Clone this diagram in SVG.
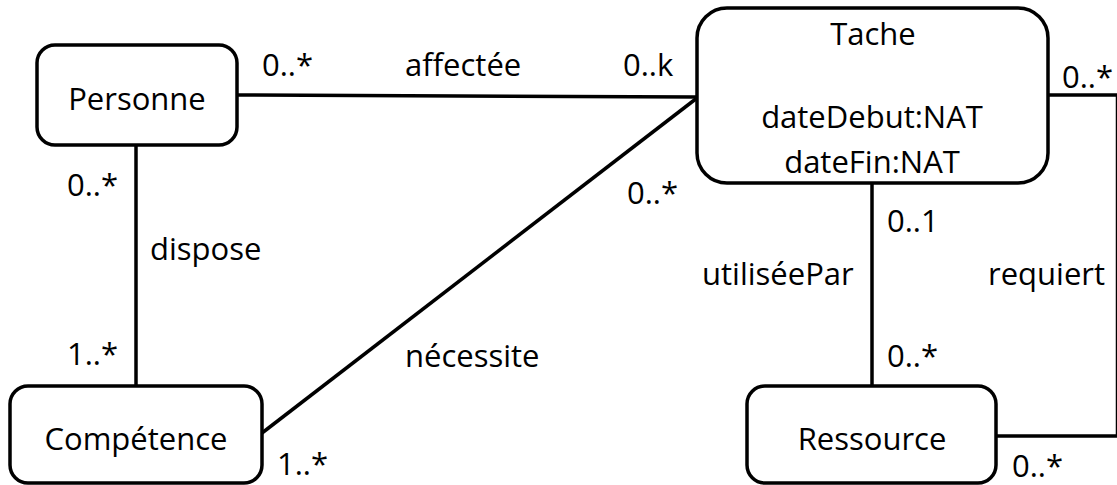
<svg xmlns="http://www.w3.org/2000/svg" width="1117" height="485" viewBox="0 0 1117 485">
<style>
.box{fill:#fff;stroke:#000;stroke-width:3.5}
.ln{fill:none;stroke:#000;stroke-width:3.5;stroke-linecap:butt}
text{font-family:"Open Sans","Noto Sans",sans-serif;font-size:31px;fill:#000}
.c{text-anchor:middle}
</style>
<rect width="1117" height="485" fill="#fff"/>
<g id="connectors">
<line class="ln" x1="237" y1="95" x2="697" y2="97"/>
<line class="ln" x1="262" y1="433" x2="697" y2="98"/>
<line class="ln" x1="136" y1="145" x2="136" y2="386"/>
<line class="ln" x1="872" y1="183" x2="872" y2="386"/>
<polyline class="ln" points="1048,95 1117.5,95 1117.5,436 996,436"/>
<text x="262" y="76">0..*</text>
<text x="405" y="76">affectée</text>
<text x="623" y="76">0..k</text>
<text x="67" y="196">0..*</text>
<text x="150" y="260">dispose</text>
<text x="67" y="365">1..*</text>
<text x="405" y="367">nécessite</text>
<text x="277" y="475">1..*</text>
<text x="627" y="204">0..*</text>
<text x="887" y="232">0..1</text>
<text x="702" y="285">utiliséePar</text>
<text x="988" y="285">requiert</text>
<text x="887" y="367">0..*</text>
<text x="1062" y="88">0..*</text>
<text x="1012" y="477">0..*</text>
</g>
<g id="personne">
<rect class="box" x="37" y="45" width="200" height="100" rx="18"/>
<text class="c" x="137" y="110">Personne</text>
</g>
<g id="tache">
<rect class="box" x="697" y="8" width="351" height="175" rx="30"/>
<text class="c" x="873" y="45">Tache</text>
<text class="c" x="872" y="128">dateDebut:NAT</text>
<text class="c" x="872" y="173">dateFin:NAT</text>
</g>
<g id="competence">
<rect class="box" x="10" y="386" width="252" height="97" rx="18"/>
<text class="c" x="136" y="450">Compétence</text>
</g>
<g id="ressource">
<rect class="box" x="747" y="386" width="249" height="97" rx="18"/>
<text class="c" x="872" y="450">Ressource</text>
</g>
</svg>
